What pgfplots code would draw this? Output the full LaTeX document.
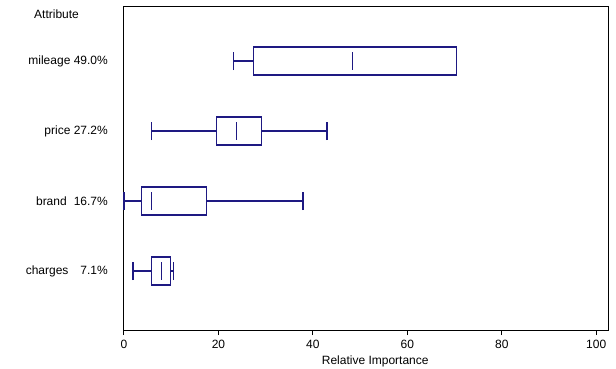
\documentclass[border=0pt]{standalone}
\usepackage{fontspec}
\setmainfont{Liberation Sans}
\usepackage{pgfplots}
\pgfplotsset{compat=1.18}
\usepgfplotslibrary{statistics}
\definecolor{navy}{RGB}{30,25,130}
\begin{document}
\fontsize{12}{14}\selectfont
\begin{tikzpicture}
\begin{axis}[
  scale only axis, width=484pt, height=324pt,
  xmin=0, xmax=102.5, ymin=0.157, ymax=4.786,
  xtick={0,20,40,60,80,100},
  ytick={1,2,3,4},
  yticklabels={charges\hspace{12pt}7.1\%, brand\hspace{7pt}16.7\%, price 27.2\%, mileage 49.0\%},
  /pgf/number format/assume math mode=true,
  tick label style={font=\fontsize{12}{14}\selectfont},
  label style={font=\fontsize{12}{14}\selectfont},
  xtick pos=bottom,
  tick align=outside,
  major tick length=5pt,
  ytick style={draw=none},
  xtick style={line width=1pt, black},
  y tick label style={xshift=-7pt},
  x tick label style={yshift=-1pt},
  axis line style={line width=1pt, black},
  xlabel={Relative Importance},
  xlabel style={at={(axis description cs:0.519,0)}, anchor=center, yshift=-31pt},
  boxplot/draw direction=x,
  boxplot/draw/median/.code={%
    \draw[navy, line width=1.1pt]
      (boxplot box cs:\pgfplotsboxplotvalue{median},0.18) --
      (boxplot box cs:\pgfplotsboxplotvalue{median},0.82);
  },
  boxplot/draw/lower whisker/.code={%
    \draw[navy, line width=1.1pt]
      (boxplot cs:\pgfplotsboxplotvalue{lower quartile}) -- (boxplot cs:\pgfplotsboxplotvalue{lower whisker})
      (boxplot whisker cs:\pgfplotsboxplotvalue{lower whisker},0) -- (boxplot whisker cs:\pgfplotsboxplotvalue{lower whisker},1);
  },
  boxplot/draw/upper whisker/.code={%
    \draw[navy, line width=1.1pt]
      (boxplot cs:\pgfplotsboxplotvalue{upper quartile}) -- (boxplot cs:\pgfplotsboxplotvalue{upper whisker})
      (boxplot whisker cs:\pgfplotsboxplotvalue{upper whisker},0) -- (boxplot whisker cs:\pgfplotsboxplotvalue{upper whisker},1);
  },
  boxplot/draw/box/.code={%
    \draw[navy, line width=1.1pt]
      (boxplot box cs:\pgfplotsboxplotvalue{lower quartile},0) rectangle
      (boxplot box cs:\pgfplotsboxplotvalue{upper quartile},1);
  },
  clip=false,
]
\addplot[draw=navy, boxplot prepared={draw position=1, box extend=0.4, whisker extend=0.26,
  lower whisker=1.9, lower quartile=5.9, median=7.9, upper quartile=9.8, upper whisker=10.4}] coordinates {};
\addplot[draw=navy, boxplot prepared={draw position=2, box extend=0.4, whisker extend=0.26,
  lower whisker=0, lower quartile=3.7, median=5.9, upper quartile=17.5, upper whisker=37.9}] coordinates {};
\addplot[draw=navy, boxplot prepared={draw position=3, box extend=0.4, whisker extend=0.26,
  lower whisker=5.8, lower quartile=19.6, median=23.8, upper quartile=29.1, upper whisker=43.0}] coordinates {};
\addplot[draw=navy, boxplot prepared={draw position=4, box extend=0.4, whisker extend=0.26,
  lower whisker=23.1, lower quartile=27.4, median=48.3, upper quartile=70.4, upper whisker=70.4}] coordinates {};
\coordinate (sw) at (rel axis cs:0,0);
\coordinate (ne) at (rel axis cs:1,1);
\node[anchor=west, font=\fontsize{12}{14}\selectfont] at ([shift={(-94pt,-8pt)}]rel axis cs:0,1) {Attribute};
\end{axis}
\pgfresetboundingbox
\path ([shift={(-124pt,-38pt)}]sw) rectangle ([shift={(8pt,6pt)}]ne);
\end{tikzpicture}
\end{document}
